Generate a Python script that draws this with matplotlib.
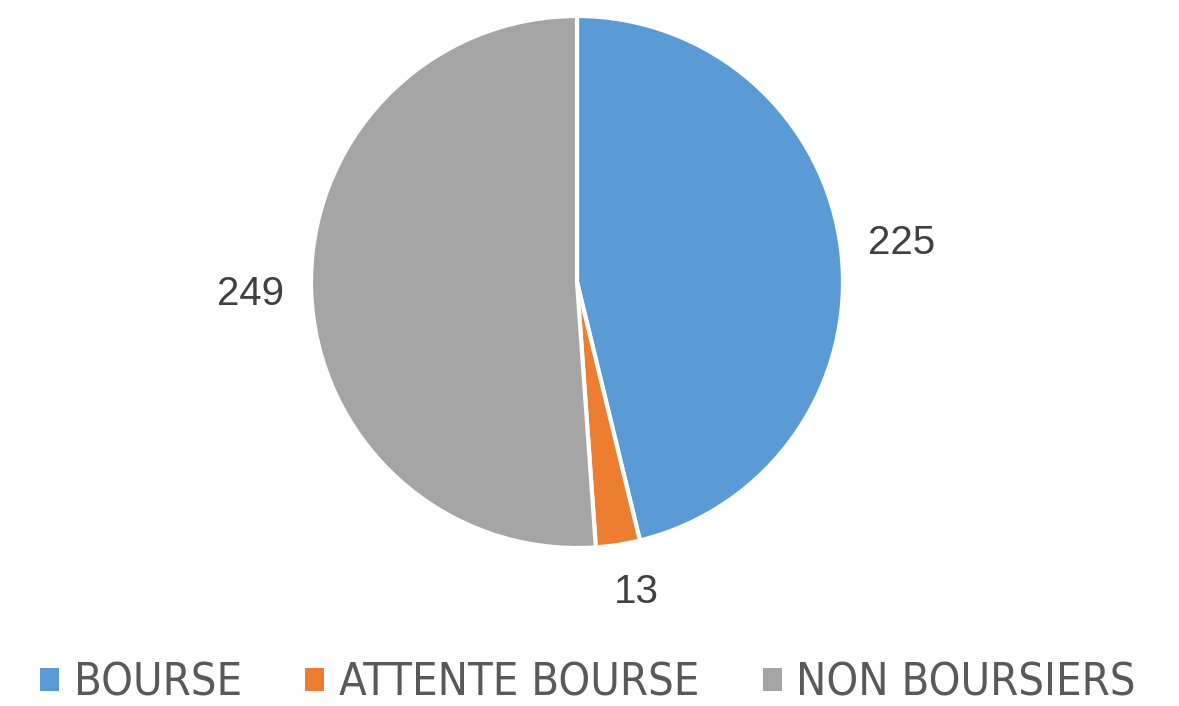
import matplotlib.pyplot as plt
from matplotlib.patches import Patch

labels = ['BOURSE', 'ATTENTE BOURSE', 'NON BOURSIERS']
values = [225, 13, 249]
colors = ['#5B9BD5', '#ED7D31', '#A5A5A5']

W, H = 1179, 706
fig = plt.figure(figsize=(W / 100, H / 100), dpi=100)

# pie centre at (577, 282) px from top-left, radius ~266 px
R = 266
cx, cy = 577, H - 282
ax = fig.add_axes([(cx - 1.5 * R) / W, (cy - 1.5 * R) / H, 3 * R / W, 3 * R / H])

wedges, texts = ax.pie(values, labels=[str(v) for v in values], colors=colors,
                       startangle=90, counterclock=False, labeldistance=1.23,
                       wedgeprops=dict(edgecolor='white', linewidth=3),
                       textprops=dict(fontsize=29, color='#404040',
                                      family=['Liberation Sans', 'DejaVu Sans']))
for t in texts:
    t.set_horizontalalignment('center')
x, y = texts[1].get_position()
texts[1].set_position((x * 1.18 / 1.23 + 0.04, y * 1.18 / 1.23))
ax.set_xlim(-1.5, 1.5)
ax.set_ylim(-1.5, 1.5)
ax.set_aspect('auto')

handles = [Patch(facecolor=c, edgecolor='none') for c in colors]
leg = fig.legend(handles, labels, loc='center', bbox_to_anchor=(588 / W, 23 / H),
                 ncol=3, frameon=False, handlelength=0.42, handleheight=0.42,
                 handletextpad=0.33, columnspacing=1.4,
                 prop=dict(family='DejaVu Sans', stretch='condensed', size=32.5))
for t in leg.get_texts():
    t.set_color('#595959')

fig.savefig('out.png', dpi=100, facecolor='white')
